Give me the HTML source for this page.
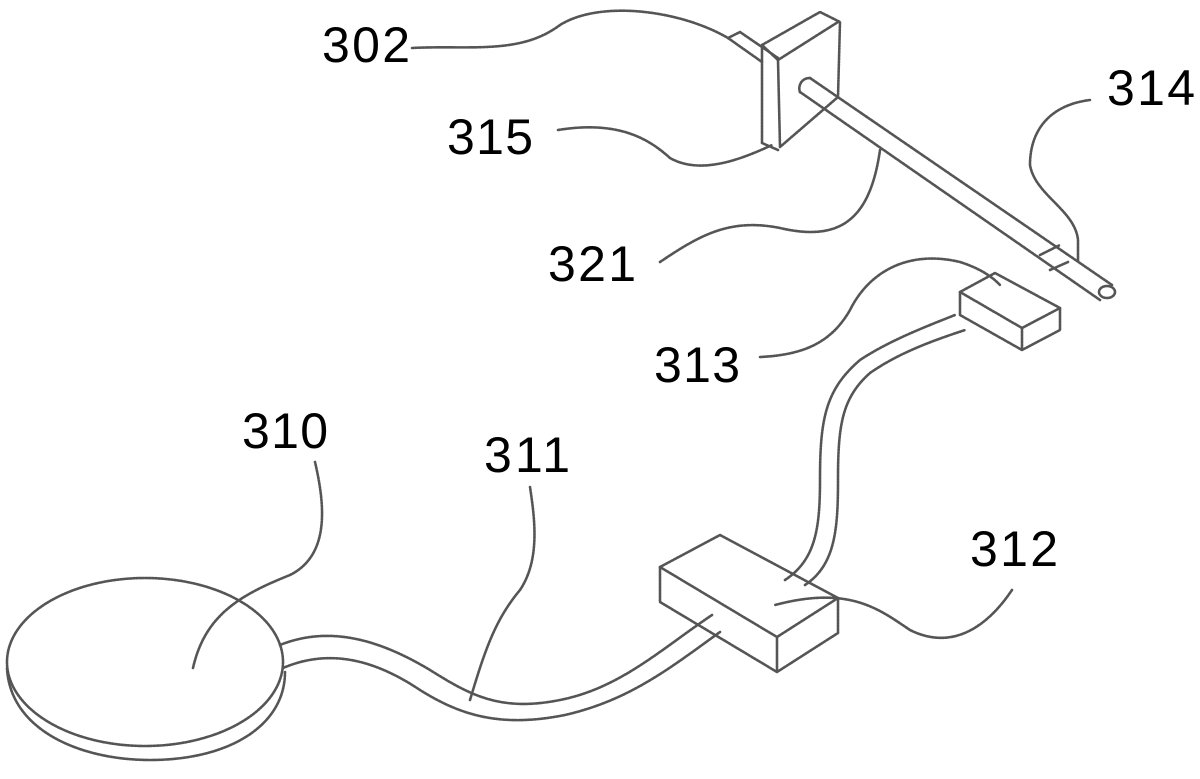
<!DOCTYPE html>
<html><head><meta charset="utf-8"><style>
html,body{margin:0;padding:0;background:#fff;}
svg{display:block}
.l{fill:none;stroke:#555;stroke-width:2.6;stroke-dasharray:2 1.2;stroke-linecap:round;stroke-linejoin:round}
text{font-family:"Liberation Sans",sans-serif;font-size:50px;fill:#000}
</style></head><body>
<svg width="1200" height="779" viewBox="0 0 1200 779" xmlns="http://www.w3.org/2000/svg">
<g class="l">
<ellipse cx="145" cy="662" rx="138" ry="84"/>
<path d="M7,668 C10,730 80,760 150,760 C230,760 285,725 285,672"/>
<path d="M280,645 C330,625 380,640 430,670 C470,695 500,712 560,700 C620,688 660,650 712,615"/>
<path d="M283,668 C330,648 375,660 420,690 C460,715 500,728 565,715 C630,700 670,668 720,632"/>
<path d="M720,535 L838,598 L777,637 L660,567 Z"/>
<path d="M660,567 L660,602 L777,672 L838,633 L838,598 M777,637 L777,672"/>
<path d="M785,580 C815,560 820,530 820,480 C820,420 825,390 860,360 C890,340 930,325 955,315"/>
<path d="M805,585 C835,565 838,530 838,480 C838,425 842,398 870,373 C900,352 935,340 965,330"/>
<path d="M960,292 L995,273 L1060,308 L1022,328 Z"/>
<path d="M960,292 L960,315 L1022,350 L1060,330 L1060,308 M1022,328 L1022,350"/>
<path d="M810,78 L1112,285 M800,92 L1100,300"/>
<ellipse cx="1107" cy="292" rx="8" ry="6"/>
<path d="M810,78 C800,78 798,88 800,92"/>
<path d="M1040,255 L1060,245 M1050,270 L1068,262"/>
<path d="M762,45 L820,12 L840,22 L838,97 L780,147 L778,60"/>
<path d="M762,45 L762,143 L778,150 M778,60 L762,45"/>
<path d="M728,38 L740,32 L778,58 M728,38 L762,62"/>
<path d="M778,60 L838,22"/>
<path d="M412,48 C470,45 520,55 560,25 C600,0 680,10 728,38"/>
<path d="M558,130 C620,120 650,140 670,158 C700,175 740,160 772,145"/>
<path d="M660,262 C700,235 730,218 780,228 C840,242 870,220 880,150"/>
<path d="M1090,100 C1050,105 1030,130 1030,165 C1035,195 1075,210 1078,240 L1078,262"/>
<path d="M760,357 C800,355 830,345 850,310 C870,270 910,250 960,262 C985,270 995,280 1000,285"/>
<path d="M193,668 C205,615 240,595 290,575 C330,555 325,505 315,462"/>
<path d="M470,700 C485,650 495,620 520,590 C540,560 535,520 530,487"/>
<path d="M1012,590 C985,630 950,650 910,630 C880,610 850,585 775,605"/>
</g>
<text x="322" y="62" textLength="88">302</text>
<text x="447" y="154" textLength="86">315</text>
<text x="1107" y="105" textLength="88">314</text>
<text x="548" y="281" textLength="88">321</text>
<text x="654" y="382" textLength="86">313</text>
<text x="242" y="448" textLength="86">310</text>
<text x="484" y="472" textLength="86">311</text>
<text x="970" y="566" textLength="88">312</text>
</svg>
</body></html>
